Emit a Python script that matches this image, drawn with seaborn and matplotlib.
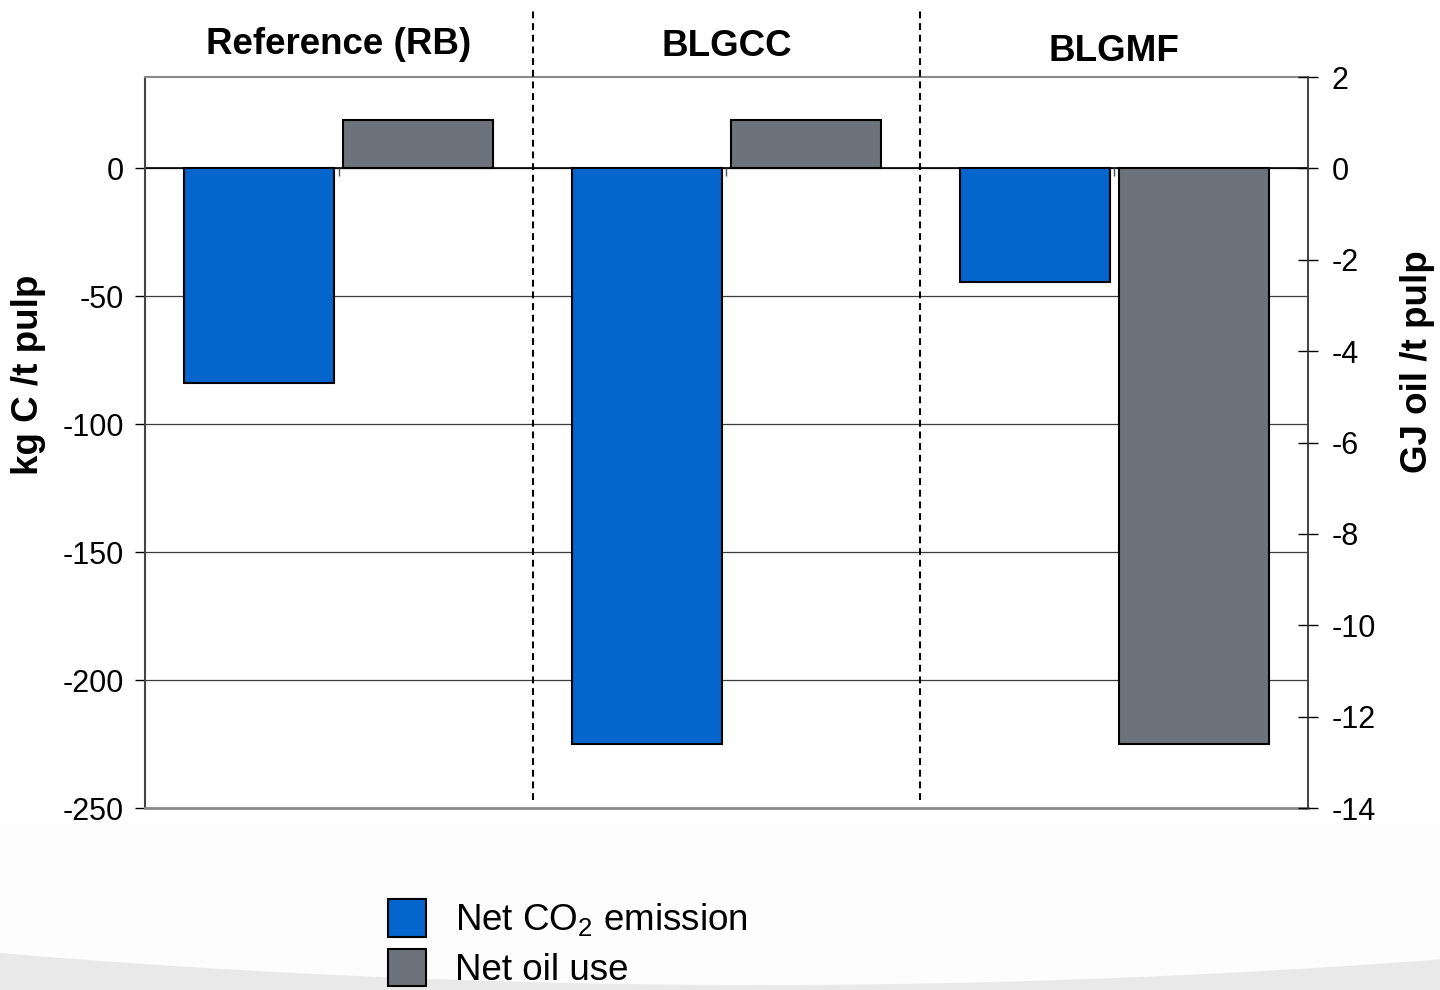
import numpy as np
import pandas as pd
import matplotlib
matplotlib.use("Agg")
import matplotlib.pyplot as plt
import matplotlib.transforms as mtransforms
from matplotlib.patches import Patch, Polygon, Rectangle
import seaborn as sns

# values
scenarios = ["Reference (RB)", "BLGCC", "BLGMF"]
series = ["Net CO$_2$ emission", "Net oil use"]
co2_kgC = [-84, -225, -44.5]      # kg C / t pulp (left axis)
oil_GJ = [1.07, 1.07, -12.6]      # GJ oil / t pulp (right axis)
colors = ["#0466CC", "#6D737A"]
left_ticks = [0, -50, -100, -150, -200, -250]
right_ticks = [2, 0, -2, -4, -6, -8, -10, -12, -14]

sns.set_theme(style="white")
plt.rcParams["font.family"] = ["Liberation Sans", "DejaVu Sans"]
plt.rcParams["mathtext.fontset"] = "custom"
plt.rcParams["mathtext.rm"] = "Liberation Sans"
plt.rcParams["mathtext.it"] = "Liberation Sans:italic"
plt.rcParams["axes.unicode_minus"] = False
plt.rcParams["text.color"] = "black"
plt.rcParams["axes.labelcolor"] = "black"

df_co2 = pd.DataFrame({"scenario": scenarios, "series": series[0], "value": co2_kgC})
df_oil = pd.DataFrame({"scenario": scenarios, "series": series[1], "value": oil_GJ})

fig = plt.figure(figsize=(14.4, 9.9), dpi=100)
fig.patch.set_facecolor("white")

# slide-like background below the plot
fig.add_artist(Rectangle((0, 0), 1, 0.17, transform=fig.transFigure,
                         facecolor="#fdfdfd", edgecolor="none", zorder=0))
xs = np.linspace(0, 1, 300)
ytop = 953 + 32 * (1 - ((xs * 1440 - 760) / 760) ** 2)
pts = np.column_stack([np.r_[xs, 1, 0], np.r_[1 - ytop / 990, 0, 0]])
fig.add_artist(Polygon(pts, closed=True, transform=fig.transFigure,
                       facecolor="#e9e9e9", edgecolor="none", zorder=0))

ax = fig.add_axes([0.1007, 0.1838, 0.8076, 0.7384])
ax.set_facecolor("white")
ax.set_axisbelow(True)

bar_kw = dict(x="scenario", y="value", hue="series", order=scenarios,
              hue_order=series, palette=colors, saturation=1, dodge=True,
              width=0.82, gap=0.056, errorbar=None, edgecolor="black",
              linewidth=1.5, legend=False)
sns.barplot(data=df_co2, ax=ax, **bar_kw)

ax2 = ax.twinx()
sns.barplot(data=df_oil, ax=ax2, **bar_kw)

ax.set_xlim(-0.5, len(scenarios) - 0.5)
ax.set_ylim(-250, 250 * 2 / 14)
ax2.set_ylim(-14, 2)

ax.set_yticks(left_ticks)
ax2.set_yticks(right_ticks)
ax.yaxis.grid(True, color="#3c3c3c", lw=0.9)
ax.axhline(0, color="black", lw=1.2, zorder=1)
ax.vlines(range(len(scenarios)), 0, -3, color="#555555", lw=1, zorder=1)

for a in (ax, ax2):
    a.set_xlabel("")
    a.tick_params(axis="x", bottom=False, labelbottom=False)

ax.tick_params(axis="y", left=True, direction="out", length=7, width=1,
               labelsize=22, pad=8, colors="black")
ax2.tick_params(axis="y", right=True, direction="inout", length=14, width=1,
                labelsize=22, pad=10, colors="black")

ax.set_ylabel("kg C /t pulp", fontsize=26.5, fontweight="bold")
ax.yaxis.set_label_coords(-0.085, 0.592)
ax2.set_ylabel("GJ oil /t pulp", fontsize=26.5, fontweight="bold", rotation=90)
ax2.yaxis.set_label_coords(1.079, 0.61)

ax.spines["top"].set_color("#8a8a8a")
ax.spines["top"].set_linewidth(1.5)
ax.spines["bottom"].set_color("#8a8a8a")
ax.spines["bottom"].set_linewidth(2)
ax.spines["left"].set_color("#444444")
ax.spines["left"].set_linewidth(1.5)
ax.spines["right"].set_visible(False)
for s in ("top", "bottom", "left"):
    ax2.spines[s].set_visible(False)
ax2.spines["right"].set_color("#333333")
ax2.spines["right"].set_linewidth(1.3)

# dashed separators between scenarios
for b in np.arange(0.5, len(scenarios) - 0.5):
    ax.axvline(b, ymin=0.011, ymax=1.092, color="black", lw=1.5,
               ls=(0, (3.3, 2.3)), clip_on=False, zorder=4)

# scenario titles above the plot
trans = mtransforms.blended_transform_factory(ax.transData, ax.transAxes)
title_y = [1.044, 1.042, 1.035]
for i, name in enumerate(scenarios):
    ax.text(i, title_y[i], name, transform=trans, ha="center", va="center",
            fontsize=26.5, fontweight="bold", color="black")

handles = [Patch(facecolor=c, edgecolor="black", lw=1.5) for c in colors]
fig.legend(handles, series, loc="upper left", bbox_to_anchor=(388 / 1440, 1 - 899 / 990),
           frameon=False, fontsize=26.5, handlelength=1.03, handleheight=1.2,
           handletextpad=0.8, labelspacing=0.28, borderpad=0, borderaxespad=0)

fig.savefig("out.png", dpi=100)
